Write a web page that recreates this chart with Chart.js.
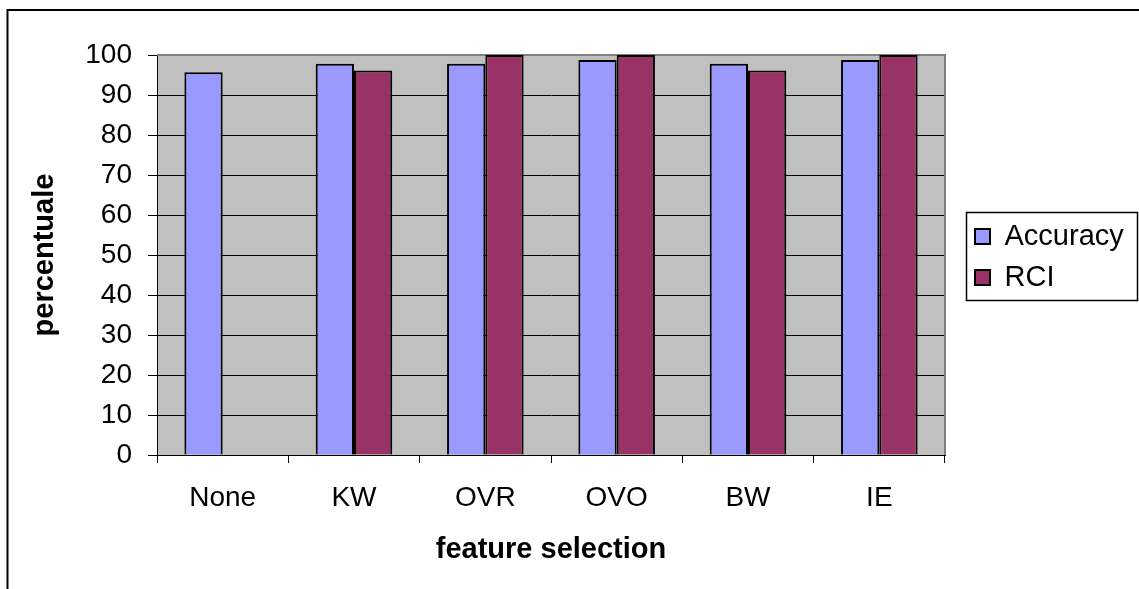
<!DOCTYPE html>
<html>
<head>
<meta charset="utf-8">
<script src="https://cdn.jsdelivr.net/npm/chart.js@4.4.1/dist/chart.umd.min.js"></script>
<style>
  html, body { margin: 0; padding: 0; background: #ffffff; }
  #wrap { width: 1139px; height: 589px; position: relative; }
  canvas { display: block; }
</style>
</head>
<body>
<div id="wrap"><canvas id="c" width="1139" height="589"></canvas></div>
<script>
// Feature-selection methods on the category axis
const categories = ['None', 'KW', 'OVR', 'OVO', 'BW', 'IE'];
// Percentages per method
const accuracy = [95.7, 97.8, 97.8, 98.75, 97.8, 98.75];
const rci = [null, 96.1, 100, 100, 96.1, 100];
// Value axis range and step
const yMin = 0;
const yMax = 100;
const yStep = 10;

const FONT = "'Liberation Sans', Arial, Helvetica, sans-serif";

// Fixed geometry of the plot frame (pixels)
const PLOT_LEFT = 157;
const PLOT_TOP = 55;
const PLOT_BOTTOM = 455;
const LEGEND_WIDTH = 194;
const LEGEND_SHIFT = 18;

const framePlugin = {
  id: 'framePlugin',
  beforeLayout(chart) {
    const lg = chart.legend;
    if (lg && !lg._fixedWidth) {
      const origFit = lg.fit.bind(lg);
      lg.fit = function () {
        origFit();
        this.width = LEGEND_WIDTH;
      };
      lg._fixedWidth = true;
    }
  },
  afterLayout(chart) {
    const lg = chart.legend;
    if (lg) {
      lg.left += LEGEND_SHIFT;
      lg.right += LEGEND_SHIFT;
      // keep the legend block vertically beside the plot
      lg.top = PLOT_TOP;
      lg.bottom = PLOT_BOTTOM + 4;
      lg.height = lg.bottom - lg.top;
    }
  },
  beforeDraw(chart) {
    const { ctx, chartArea: a } = chart;
    ctx.save();
    ctx.fillStyle = '#ffffff';
    ctx.fillRect(0, 0, chart.width, chart.height);
    ctx.fillStyle = '#c0c0c0';
    ctx.fillRect(a.left, a.top, a.right - a.left, a.bottom - a.top);
    ctx.restore();
  },
  beforeDatasetsDraw(chart) {
    const { ctx, chartArea: a } = chart;
    ctx.save();
    ctx.strokeStyle = '#808080';
    ctx.lineWidth = 2;
    ctx.beginPath();
    ctx.moveTo(a.left, a.top);
    ctx.lineTo(a.right, a.top);
    ctx.lineTo(a.right, a.bottom);
    ctx.stroke();
    ctx.restore();
  },
  afterDraw(chart) {
    const { ctx } = chart;
    ctx.save();
    // outer border (top and left edges)
    ctx.strokeStyle = '#000000';
    ctx.lineWidth = 2;
    ctx.beginPath();
    ctx.moveTo(7.5, chart.height);
    ctx.lineTo(7.5, 10);
    ctx.lineTo(chart.width, 10);
    ctx.stroke();
    // legend frame
    const lg = chart.legend;
    if (lg && lg.legendHitBoxes && lg.legendHitBoxes.length) {
      const hb = lg.legendHitBoxes;
      const left = hb[0].left - 9;
      const top = hb[0].top - 10;
      const last = hb[hb.length - 1];
      const bottom = last.top + last.height + 8;
      let right = 0;
      hb.forEach(h => { right = Math.max(right, h.left + h.width); });
      right += 13;
      ctx.lineWidth = 1.5;
      ctx.strokeStyle = '#000000';
      ctx.strokeRect(Math.round(left) + 0.5, Math.round(top) + 0.5,
        Math.round(right - left), Math.round(bottom - top));
    }
    ctx.restore();
  }
};

new Chart(document.getElementById('c'), {
  type: 'bar',
  data: {
    labels: categories,
    datasets: [
      {
        label: 'Accuracy',
        data: accuracy,
        backgroundColor: '#9999ff',
        borderColor: '#000000',
        borderWidth: 2,
        borderSkipped: 'bottom'
      },
      {
        label: 'RCI',
        data: rci,
        backgroundColor: '#993366',
        borderColor: '#000000',
        borderWidth: 2,
        borderSkipped: 'bottom'
      }
    ]
  },
  options: {
    responsive: false,
    animation: false,
    devicePixelRatio: 1,
    layout: { padding: { left: 0, top: PLOT_TOP, right: 0, bottom: 0 } },
    datasets: {
      bar: { categoryPercentage: 0.583, barPercentage: 1.0 }
    },
    plugins: {
      tooltip: { enabled: false },
      legend: {
        position: 'right',
        align: 'center',
        labels: {
          color: '#000000',
          font: { family: FONT, size: 29 },
          boxWidth: 15,
          boxHeight: 15,
          padding: 12
        }
      }
    },
    scales: {
      x: {
        grid: {
          offset: true,
          drawOnChartArea: false,
          drawTicks: true,
          tickLength: 8,
          tickColor: '#000000',
          lineWidth: 1
        },
        border: { display: true, color: '#000000', width: 1 },
        ticks: {
          color: '#000000',
          font: { family: FONT, size: 28 },
          padding: 18,
          maxRotation: 0
        },
        title: {
          display: true,
          text: 'feature selection',
          color: '#000000',
          font: { family: FONT, size: 29, weight: 'bold' },
          padding: { top: 0, bottom: 22 }
        },
        afterFit(scale) { scale.height = 589 - PLOT_BOTTOM; }
      },
      y: {
        min: yMin,
        max: yMax,
        grid: {
          color: ctx => (ctx.tick && ctx.tick.value === yMax ? '#808080' : '#000000'),
          lineWidth: 1,
          tickLength: 9,
          tickColor: '#000000'
        },
        border: { display: true, color: '#000000', width: 1 },
        ticks: {
          stepSize: yStep,
          color: '#000000',
          font: { family: FONT, size: 28 },
          padding: 16
        },
        title: {
          display: true,
          text: 'percentuale',
          color: '#000000',
          font: { family: FONT, size: 29, weight: 'bold' },
          padding: { top: 28, bottom: 0 }
        },
        afterFit(scale) { scale.width = PLOT_LEFT; }
      }
    }
  },
  plugins: [framePlugin]
});
</script>
</body>
</html>
